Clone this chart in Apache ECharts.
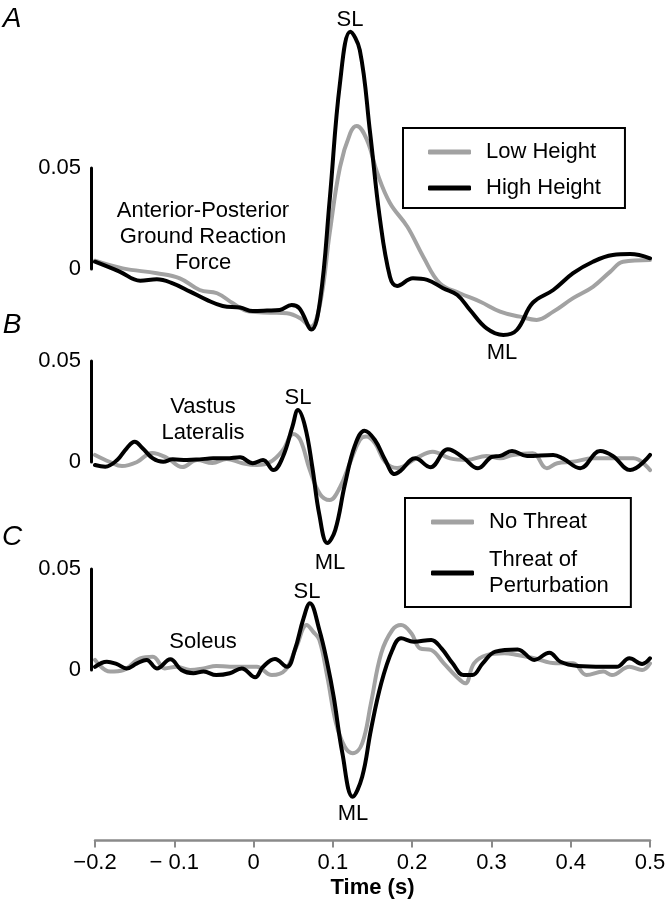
<!DOCTYPE html>
<html><head><meta charset="utf-8">
<script src="https://cdn.jsdelivr.net/npm/echarts@6/dist/echarts.min.js"></script>
<style>html,body{margin:0;padding:0;background:#fff}#c{width:672px;height:911px}</style>
</head><body><div id="c"></div>
<script>
// ---------- data ----------
const timeTickLabels = ['\u22120.2', '\u2212 0.1', '0', '0.1', '0.2', '0.3', '0.4', '0.5'];
const scaleLabels = ['0', '0.05'];

// Panel A: anterior-posterior ground reaction force  [time (s), value]
const forceLowHeight = [[-0.2,0.0041],[-0.165,0.0003],[-0.122,-0.0021],[-0.093,-0.0046],[-0.068,-0.0104],[-0.046,-0.0120],[-0.026,-0.0170],[-0.005,-0.0211],[0.021,-0.0216],[0.042,-0.0219],[0.059,-0.0244],[0.072,-0.0286],[0.084,-0.0170],[0.096,0.0178],[0.109,0.0505],[0.122,0.0673],[0.130,0.0708],[0.143,0.0639],[0.156,0.0475],[0.172,0.0327],[0.194,0.0209],[0.214,0.0061],[0.235,-0.0071],[0.260,-0.0120],[0.286,-0.0162],[0.311,-0.0211],[0.336,-0.0236],[0.357,-0.0252],[0.378,-0.0211],[0.403,-0.0144],[0.428,-0.0088],[0.450,-0.0013],[0.466,0.0036],[0.5,0.0045]];
const forceHighHeight = [[-0.2,0.0036],[-0.169,-0.0013],[-0.143,-0.0058],[-0.122,-0.0051],[-0.102,-0.0071],[-0.080,-0.0112],[-0.059,-0.0153],[-0.039,-0.0183],[-0.017,-0.0191],[-0.001,-0.0208],[0.017,-0.0206],[0.033,-0.0203],[0.048,-0.0178],[0.058,-0.0195],[0.073,-0.0300],[0.084,-0.0153],[0.096,0.0342],[0.109,0.0921],[0.122,0.1175],[0.134,0.1084],[0.147,0.0673],[0.159,0.0259],[0.172,-0.0038],[0.181,-0.0084],[0.201,-0.0046],[0.219,-0.0054],[0.239,-0.0095],[0.257,-0.0129],[0.273,-0.0203],[0.294,-0.0294],[0.315,-0.0327],[0.332,-0.0302],[0.352,-0.0168],[0.378,-0.0104],[0.403,-0.0021],[0.428,0.0036],[0.453,0.0069],[0.475,0.0074],[0.5,0.0053]];

// Panel B: vastus lateralis
const vastusNoThreat = [[-0.2,0.0035],[-0.181,0.0],[-0.166,-0.0020],[-0.147,0.0],[-0.128,0.0045],[-0.109,0.0020],[-0.090,-0.0025],[-0.071,0.0010],[-0.052,-0.0005],[-0.034,0.0015],[-0.015,-0.0005],[0.004,-0.0015],[0.021,0.0],[0.037,0.0059],[0.050,0.0139],[0.059,0.0109],[0.071,-0.0040],[0.084,-0.0160],[0.096,-0.0188],[0.109,-0.0125],[0.122,0.0],[0.134,0.0109],[0.142,0.0126],[0.153,0.0094],[0.166,0.0],[0.181,-0.0030],[0.205,0.0018],[0.226,0.0051],[0.248,0.0018],[0.269,0.0010],[0.294,0.0030],[0.311,0.0018],[0.327,0.0035],[0.352,0.0043],[0.370,-0.0031],[0.383,-0.0006],[0.403,0.0001],[0.428,0.0018],[0.453,0.0018],[0.479,0.0018],[0.5,-0.0040]];
const vastusThreat = [[-0.2,-0.0015],[-0.187,-0.0023],[-0.172,0.0010],[-0.160,0.0068],[-0.150,0.0100],[-0.140,0.0068],[-0.127,0.0018],[-0.114,0.0001],[-0.102,0.0013],[-0.084,0.0010],[-0.068,0.0013],[-0.051,0.0018],[-0.034,0.0018],[-0.017,0.0023],[-0.001,-0.0006],[0.012,0.0010],[0.025,-0.0040],[0.037,0.0026],[0.049,0.0175],[0.056,0.0257],[0.065,0.0175],[0.074,-0.0023],[0.083,-0.0262],[0.093,-0.0401],[0.103,-0.0337],[0.115,-0.0114],[0.128,0.0084],[0.140,0.0155],[0.153,0.0109],[0.166,0.0010],[0.178,-0.0060],[0.185,-0.0045],[0.204,0.0018],[0.223,-0.0026],[0.245,0.0063],[0.264,0.0023],[0.283,-0.0031],[0.301,0.0026],[0.311,0.0030],[0.326,0.0054],[0.345,0.0030],[0.378,0.0035],[0.390,0.0018],[0.412,-0.0031],[0.437,0.0054],[0.453,0.0030],[0.475,-0.0040],[0.5,0.0035]];

// Panel C: soleus
const soleusNoThreat = [[-0.2,0.0050],[-0.181,-0.0008],[-0.164,0.0],[-0.143,0.0058],[-0.127,0.0066],[-0.112,0.0008],[-0.097,0.0016],[-0.080,0.0],[-0.063,0.0008],[-0.047,0.0020],[-0.030,0.0016],[-0.013,0.0016],[0.004,0.0016],[0.023,-0.0025],[0.040,0.0],[0.054,0.0115],[0.067,0.0223],[0.075,0.0190],[0.083,0.0149],[0.093,-0.0033],[0.104,-0.0264],[0.115,-0.0380],[0.125,-0.0412],[0.137,-0.0363],[0.148,-0.0165],[0.161,0.0083],[0.175,0.0198],[0.186,0.0223],[0.199,0.0182],[0.210,0.0107],[0.224,0.0099],[0.240,0.0033],[0.256,-0.0033],[0.267,-0.0066],[0.278,0.0033],[0.294,0.0074],[0.316,0.0083],[0.333,0.0074],[0.354,0.0058],[0.381,0.0033],[0.403,0.0033],[0.420,-0.0025],[0.441,-0.0008],[0.452,-0.0025],[0.474,0.0016],[0.490,0.0],[0.5,0.0033]];
const soleusThreat = [[-0.2,0.0016],[-0.185,0.0041],[-0.173,0.0030],[-0.160,0.0008],[-0.147,0.0033],[-0.135,0.0050],[-0.122,0.0008],[-0.105,0.0053],[-0.091,0.0],[-0.076,-0.0016],[-0.063,-0.0008],[-0.047,-0.0025],[-0.030,-0.0016],[-0.015,0.0008],[0.002,-0.0036],[0.012,0.0016],[0.027,0.0054],[0.042,0.0016],[0.052,0.0099],[0.063,0.0256],[0.071,0.0330],[0.083,0.0198],[0.093,0.0033],[0.101,-0.0132],[0.112,-0.0412],[0.125,-0.0627],[0.137,-0.0528],[0.148,-0.0297],[0.161,-0.0066],[0.175,0.0099],[0.186,0.0157],[0.202,0.0140],[0.224,0.0149],[0.237,0.0107],[0.251,0.0033],[0.265,-0.0025],[0.276,-0.0025],[0.289,0.0033],[0.305,0.0091],[0.333,0.0102],[0.354,0.0050],[0.373,0.0086],[0.387,0.0041],[0.409,0.0020],[0.441,0.0016],[0.458,0.0016],[0.474,0.0058],[0.490,0.0030],[0.5,0.0058]];

// ---------- layout ----------
const FONT = '"Liberation Sans", Arial, Helvetica, sans-serif';
const FS = 22;
const GRAY = '#a2a2a2', BLACK = '#000';
const PXU = 2020;                 // pixels per unit (0.05 -> 101 px)
const X0 = 95, XW = 555;
const panels = [
  {zero: 269, min: -0.04, max: 0.12},
  {zero: 462, min: -0.05, max: 0.05},
  {zero: 670, min: -0.07, max: 0.05}
];
const xMin = -0.2, xMax = 0.5, xStep = 0.1;

const grids = [], xAxes = [], yAxes = [];
panels.forEach((p, i) => {
  grids.push({left: X0, width: XW, top: p.zero - p.max * PXU, height: (p.max - p.min) * PXU});
  const isBottom = i === 2;
  xAxes.push({
    gridIndex: i, type: 'value', min: xMin, max: xMax, interval: xStep,
    show: isBottom, position: 'bottom', offset: 29,
    axisLine: {show: true, onZero: false, lineStyle: {color: '#8a8a8a', width: 2.5}},
    axisTick: {show: true, length: 7, lineStyle: {color: '#8a8a8a', width: 2}},
    splitLine: {show: false},
    axisLabel: {margin: 12, fontSize: FS, color: '#000', fontFamily: FONT,
      formatter: v => timeTickLabels[Math.round((v - xMin) / xStep)]},
    name: isBottom ? 'Time (s)' : '', nameLocation: 'middle', nameGap: 37,
    nameTextStyle: {fontSize: FS, fontWeight: 'bold', color: '#000', fontFamily: FONT}
  });
  yAxes.push({gridIndex: i, type: 'value', min: p.min, max: p.max, show: false, splitLine: {show: false}});
});
// scale bars (0 to 0.05) as narrow grids with their own y axis
panels.forEach((p, i) => {
  const gi = grids.length;
  grids.push({left: 91, width: 1, top: p.zero - 0.05 * PXU, height: 0.05 * PXU});
  xAxes.push({gridIndex: gi, type: 'value', min: 0, max: 1, show: false});
  yAxes.push({
    gridIndex: gi, type: 'value', min: 0, max: 0.05, interval: 0.05, position: 'left',
    axisLine: {show: true, onZero: false, lineStyle: {color: '#000', width: 3}},
    axisTick: {show: false}, splitLine: {show: false},
    axisLabel: {margin: 10, fontSize: FS, color: '#000', fontFamily: FONT,
      formatter: v => scaleLabels[Math.round(v / 0.05)]}
  });
});

function line(name, data, color, idx) {
  return {type: 'line', name, data, xAxisIndex: idx, yAxisIndex: idx,
    smooth: 0.4, symbol: 'none', showSymbol: false,
    lineStyle: {color, width: 4, cap: 'round', join: 'round'}, itemStyle: {color},
    z: color === BLACK ? 3 : 2};
}

const series = [
  line('Low Height', forceLowHeight, GRAY, 0),
  line('High Height', forceHighHeight, BLACK, 0),
  line('No Threat', vastusNoThreat, GRAY, 1),
  line('Threat of\nPerturbation', vastusThreat, BLACK, 1),
  line('No Threat', soleusNoThreat, GRAY, 2),
  line('Threat of\nPerturbation', soleusThreat, BLACK, 2)
];

const legendBase = {
  orient: 'vertical', icon: 'roundRect', itemWidth: 43, itemHeight: 5,
  borderColor: '#000', borderWidth: 2, backgroundColor: '#fff',
  textStyle: {fontSize: FS, color: '#000', fontFamily: FONT, lineHeight: 26, padding: [0, 0, 0, 10]},
  selectedMode: false
};

const txt = (text, x, y, extra) => ({type: 'text', x, y, silent: true,
  style: Object.assign({text, fill: '#000', font: FS + 'px ' + FONT, align: 'center', verticalAlign: 'middle', lineHeight: 26}, extra || {})});

const graphic = [
  txt('A', 12, 19, {font: 'italic 28px ' + FONT}),
  txt('B', 12, 325, {font: 'italic 28px ' + FONT}),
  txt('C', 12, 537, {font: 'italic 28px ' + FONT}),
  txt('Anterior-Posterior\nGround Reaction\nForce', 203, 237),
  txt('SL', 350, 20),
  txt('ML', 502, 353),
  txt('Vastus\nLateralis', 203, 420),
  txt('SL', 298, 398),
  txt('ML', 330, 563),
  txt('Soleus', 203, 642),
  txt('SL', 307, 592),
  txt('ML', 353, 814)
];

const chart = echarts.init(document.getElementById('c'), null, {renderer: 'canvas'});
chart.setOption({
  animation: false,
  backgroundColor: '#fff',
  grid: grids, xAxis: xAxes, yAxis: yAxes, series,
  legend: [
    Object.assign({}, legendBase, {data: ['Low Height', 'High Height'], left: 403, top: 128, itemGap: 10, padding: [11, 24, 7, 25]}),
    Object.assign({}, legendBase, {data: ['No Threat', 'Threat of\nPerturbation'], left: 405, top: 498, itemGap: 12, padding: [11, 22, 8, 26]})
  ],
  graphic
});
</script></body></html>
